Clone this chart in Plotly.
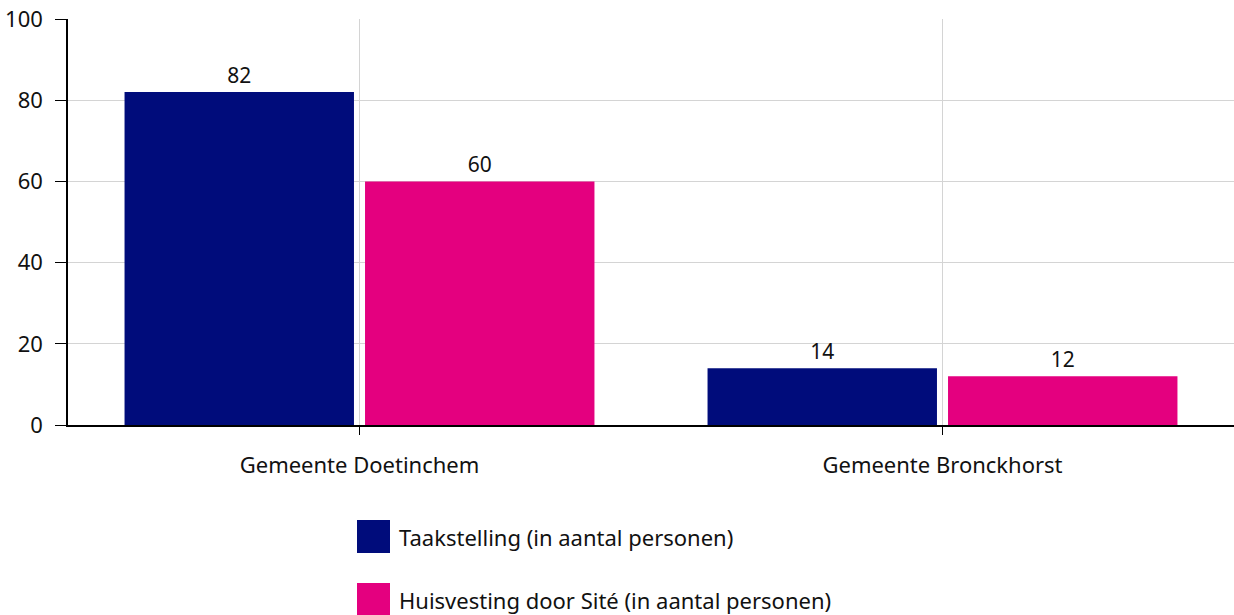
import plotly.graph_objects as go

# data
gemeenten = ["Gemeente Doetinchem", "Gemeente Bronckhorst"]
taakstelling = [82, 14]
huisvesting = [60, 12]
series_names = ["Taakstelling (in aantal personen)", "Huisvesting door Sité (in aantal personen)"]
colors = ["#000C7B", "#E4007F"]

FONT = "Noto Sans, Open Sans, sans-serif"
FS = 22

W, H = 1234, 615
L, T, B = 68, 19, 190
PW, PH = W - L, H - T - B


def px_x(x):
    return (x - L) / PW


def px_y(y):
    return (H - B - y) / PH


fig = go.Figure()
for name, vals, col in zip(series_names, [taakstelling, huisvesting], colors):
    fig.add_trace(go.Bar(
        x=gemeenten, y=vals, name=name,
        marker=dict(color=col, line=dict(width=0)),
        text=[str(v) for v in vals],
        textposition="outside",
        textfont=dict(size=FS - 1, color="#111", family=FONT),
        cliponaxis=False,
        showlegend=False,
    ))

# legend drawn by hand, large squares as in the original
legend_top = [520, 583]
for name, col, top in zip(series_names, colors, legend_top):
    fig.add_shape(type="rect", xref="paper", yref="paper",
                  x0=px_x(357), x1=px_x(390), y0=px_y(top + 33), y1=px_y(top),
                  fillcolor=col, line=dict(width=0))
    fig.add_annotation(xref="paper", yref="paper", x=px_x(397), y=px_y(top + 17),
                       text=name, showarrow=False, xanchor="left", yanchor="middle",
                       font=dict(size=FS, color="#111", family=FONT))

fig.update_layout(
    width=W, height=H,
    margin=dict(l=L, r=0, t=T, b=B),
    paper_bgcolor="white", plot_bgcolor="white",
    font=dict(family=FONT, size=FS, color="#111"),
    barmode="group", bargap=0.175, bargroupgap=0.046,
)
fig.update_xaxes(
    showline=True, linecolor="black", linewidth=1.5,
    showgrid=True, gridcolor="#d4d4d4", gridwidth=1,
    ticks="outside", ticklen=8, tickcolor="black",
    ticklabelstandoff=12,
)
fig.update_yaxes(
    range=[0, 100], dtick=20,
    showline=True, linecolor="black", linewidth=1.5,
    showgrid=True, gridcolor="#d4d4d4", gridwidth=1,
    zeroline=False,
    ticks="outside", ticklen=11, tickcolor="black",
    ticklabelstandoff=8,
)

# drop the default 8px body margin so the figure sits at the page corner
fig.write_html("out.html", config={"displayModeBar": False},
               post_script="document.body.style.margin='0';")
